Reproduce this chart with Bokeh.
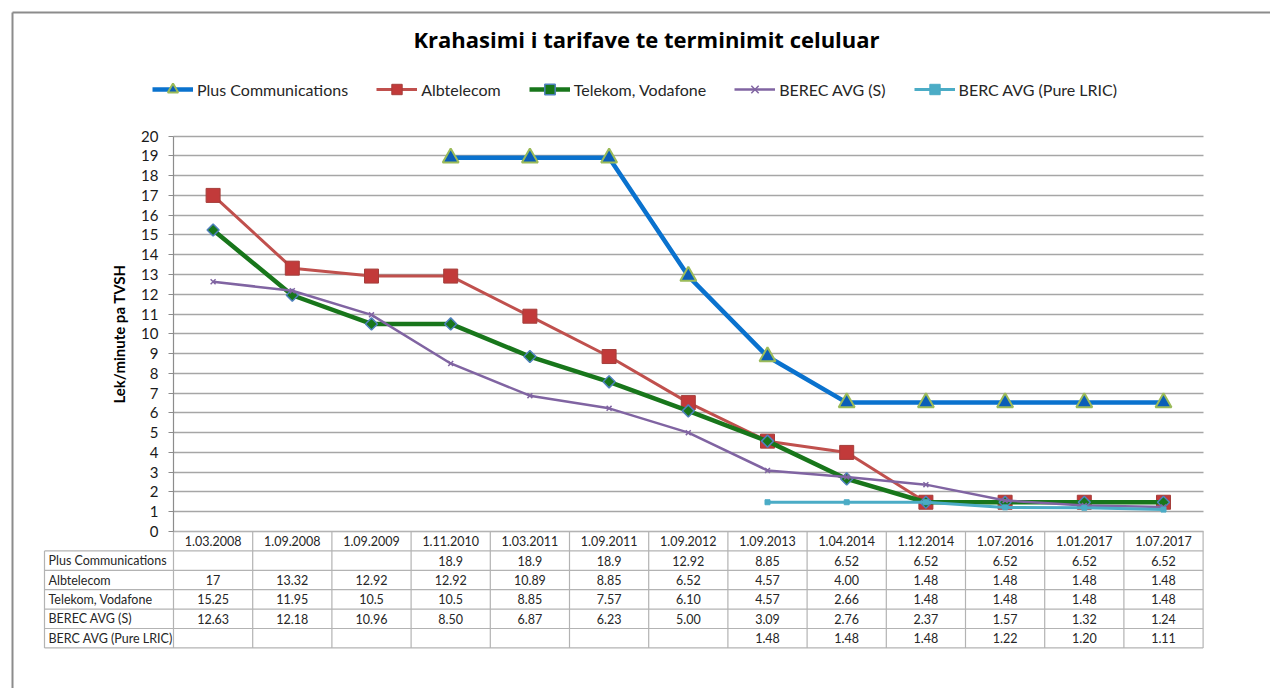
import math
from bokeh.plotting import figure
from bokeh.models import (Range1d, LinearAxis, SingleIntervalTicker, FixedTicker, Grid,
                          Legend, LegendItem, Label)
from bokeh.core.properties import value
from bokeh.embed import file_html
from bokeh.resources import INLINE

# ---------------- data ----------------
title = "Krahasimi i tarifave te terminimit celuluar"
y_label = "Lek/minute pa TVSH"
dates = ["1.03.2008", "1.09.2008", "1.09.2009", "1.11.2010", "1.03.2011", "1.09.2011",
         "1.09.2012", "1.09.2013", "1.04.2014", "1.12.2014", "1.07.2016", "1.01.2017", "1.07.2017"]
nan = float("nan")
plus = [nan, nan, nan, 18.9, 18.9, 18.9, 12.92, 8.85, 6.52, 6.52, 6.52, 6.52, 6.52]
albtelecom = [17, 13.32, 12.92, 12.92, 10.89, 8.85, 6.52, 4.57, 4.00, 1.48, 1.48, 1.48, 1.48]
telekom = [15.25, 11.95, 10.5, 10.5, 8.85, 7.57, 6.10, 4.57, 2.66, 1.48, 1.48, 1.48, 1.48]
berec_s = [12.63, 12.18, 10.96, 8.50, 6.87, 6.23, 5.00, 3.09, 2.76, 2.37, 1.57, 1.32, 1.24]
berc_lric = [nan, nan, nan, nan, nan, nan, nan, 1.48, 1.48, 1.48, 1.22, 1.20, 1.11]
series_names = ["Plus Communications", "Albtelecom", "Telekom, Vodafone",
                "BEREC AVG (S)", "BERC AVG (Pure LRIC)"]
series_values = [plus, albtelecom, telekom, berec_s, berc_lric]
# column index from which the table shows two decimals
fixed_from = [6, 6, 6, 0, 0]

# ---------------- layout (pixels) ----------------
FIG_W, FIG_H = 1270, 688
CAT_PX = 79.2          # width of one category
X0_PX = 173            # x pixel of the plot's left edge
VAL_PX = 19.77         # pixels per unit on y
ZERO_TOP_PX = 531      # pixel (from top) of value 0
Y0_PX = FIG_H - ZERO_TOP_PX
ROW_PX = 19.4          # table row height
TABLE_LEFT_PX = 44

def px2x(px):
    return (px - X0_PX) / CAT_PX

def py2y(py_top):
    return (FIG_H - py_top - Y0_PX) / VAL_PX

FONT = "Lato"
n = len(dates)
xs = [i + 0.5 for i in range(n)]

p = figure(width=FIG_W, height=FIG_H, output_backend="svg", toolbar_location=None,
           x_range=Range1d(px2x(0), px2x(FIG_W)), y_range=Range1d(py2y(FIG_H), py2y(0)),
           x_axis_location=None, y_axis_location=None, title=None,
           min_border=0, min_border_left=0, min_border_right=0,
           min_border_top=0, min_border_bottom=0)
p.outline_line_color = None
p.background_fill_color = "white"
p.border_fill_color = "white"
p.center = [r for r in p.center if not isinstance(r, Grid)]

# outer frame (left and top edges visible)
bx = px2x(12)
by = py2y(12)
p.segment(x0=[bx, bx], y0=[by, by], x1=[px2x(FIG_W + 10), bx], y1=[by, py2y(FIG_H + 10)],
          line_color="#8c8c8c", line_width=2)

# horizontal grid lines
grid = Grid(dimension=1, ticker=SingleIntervalTicker(interval=1, num_minor_ticks=0),
            bounds=(0, 20), cross_bounds=(0, n),
            grid_line_color="#a6a6a6", grid_line_width=1.4)
p.add_layout(grid)

# y axis
yaxis = LinearAxis(fixed_location=0, bounds=(0, 20),
                   ticker=SingleIntervalTicker(interval=1, num_minor_ticks=0),
                   axis_label=y_label, axis_label_text_font=FONT,
                   axis_label_text_font_style="bold", axis_label_text_font_size="15px",
                   axis_label_standoff=10, axis_label_text_color="black",
                   major_label_text_font=FONT, major_label_text_font_size="15px",
                   major_label_text_color="#1a1a1a", major_label_standoff=10,
                   major_tick_out=5, major_tick_in=0, minor_tick_out=0, minor_tick_in=0,
                   axis_line_color="#8c8c8c", major_tick_line_color="#8c8c8c",
                   axis_line_width=1.2)
p.add_layout(yaxis, "left")

# x axis = table header
xaxis = LinearAxis(fixed_location=0, ticker=FixedTicker(ticks=xs),
                   major_label_overrides={x: d for x, d in zip(xs, dates)},
                   axis_line_color=None, major_tick_line_color=None, minor_tick_line_color=None,
                   major_label_standoff=-2, major_label_text_font=FONT,
                   major_label_text_font_size="12.5px", major_label_text_color="#262626")
p.add_layout(xaxis, "below")

# ---------------- data table ----------------
ry = ROW_PX / VAL_PX
nrows = len(series_names)
lx = px2x(TABLE_LEFT_PX)
hx0, hy0, hx1, hy1 = [0], [0], [n], [0]
for k in range(1, nrows + 2):
    hx0.append(lx); hy0.append(-k * ry); hx1.append(n); hy1.append(-k * ry)
hx0.append(lx); hy0.append(-ry); hx1.append(lx); hy1.append(-(nrows + 1) * ry)
for i in range(1, n + 1):
    hx0.append(i); hy0.append(0); hx1.append(i); hy1.append(-(nrows + 1) * ry)
hx0.append(0); hy0.append(0); hx1.append(0); hy1.append(-(nrows + 1) * ry)
p.segment(x0=hx0, y0=hy0, x1=hx1, y1=hy1, line_color="#b3b3b3", line_width=1.2)

row_y = [-(k + 1.5) * ry for k in range(nrows)]
p.text(x=[lx] * nrows, y=row_y, text=series_names, x_offset=4,
       text_font=value(FONT), text_font_size="12.5px", text_color="#262626",
       text_align="left", text_baseline="middle")
cx, cy, ct = [], [], []
for k, vals in enumerate(series_values):
    for i, v in enumerate(vals):
        if math.isnan(v):
            continue
        cx.append(xs[i]); cy.append(row_y[k])
        ct.append(f"{v:.2f}" if i >= fixed_from[k] else f"{v:g}")
p.text(x=cx, y=cy, text=ct, text_font=value(FONT), text_font_size="12.5px",
       text_color="#262626", text_align="center", text_baseline="middle")

# ---------------- series ----------------
styles = [
    dict(color="#0A72CE", width=4.5, marker="triangle", size=16, fill="#0B5EB8",
         mline="#9BBB59", mlw=2, angle=0),
    dict(color="#C0504D", width=3, marker="square", size=14, fill="#C23A3A",
         mline="#A53E3B", mlw=1, angle=0),
    dict(color="#18761B", width=4.5, marker="square", size=8.5, fill="#18761B",
         mline="#4F81BD", mlw=1.5, angle=math.pi / 4),
    dict(color="#8064A2", width=2.5, marker="x", size=7, fill="#8064A2",
         mline="#8064A2", mlw=1.5, angle=0),
    dict(color="#4BACC6", width=3, marker="square", size=5, fill="#4BACC6",
         mline="#4BACC6", mlw=1, angle=0),
]
items = []
for name, vals, st in zip(series_names, series_values, styles):
    lr = p.line(xs, vals, line_color=st["color"], line_width=st["width"])
    sr = p.scatter(xs, vals, marker=st["marker"], size=st["size"], fill_color=st["fill"],
                   line_color=st["mline"], line_width=st["mlw"], angle=st["angle"])
    items.append(LegendItem(label=name, renderers=[lr, sr]))

legend = Legend(items=items, orientation="horizontal", location=(152, FIG_H - 89 - 13),
                padding=0, margin=0, spacing=28, glyph_width=41, glyph_height=26,
                label_standoff=4, border_line_color=None, background_fill_alpha=0,
                label_text_font=FONT, label_text_font_size="16px",
                label_text_color="#262626")
p.add_layout(legend)

# title
p.add_layout(Label(x=646, y=FIG_H - 38, x_units="screen", y_units="screen", text=title,
                   text_align="center", text_baseline="middle", text_font="Open Sans",
                   text_font_style="bold", text_font_size="22px", text_color="black"))

open("out.html", "w").write(file_html(p, INLINE))
